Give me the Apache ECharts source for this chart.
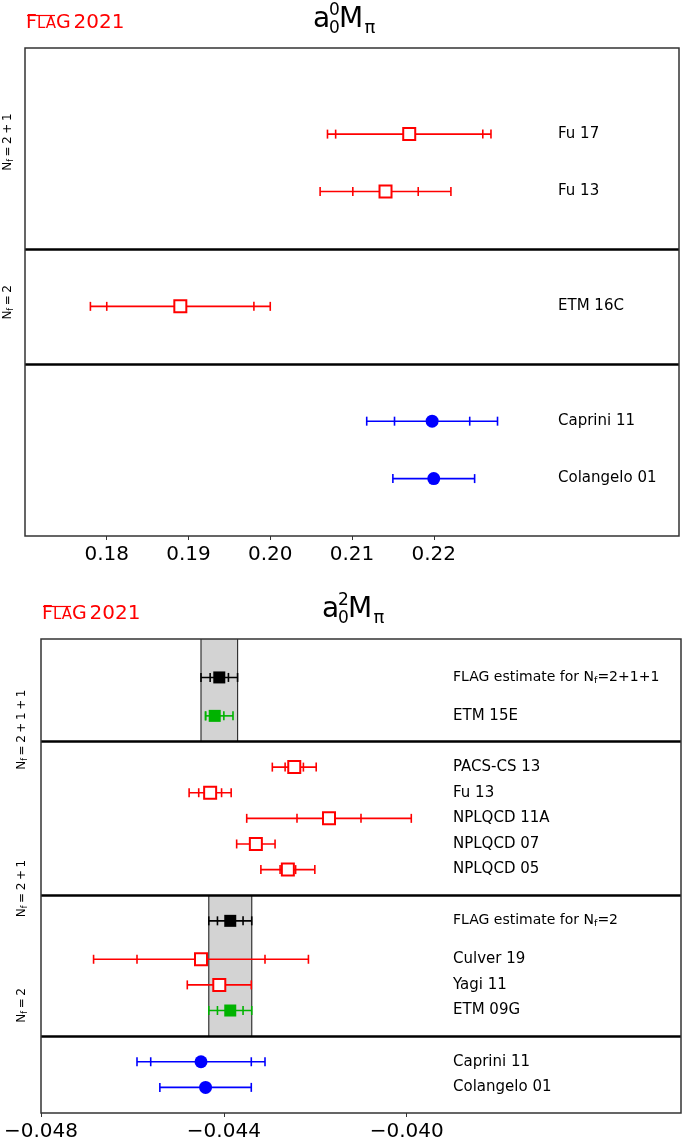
<!DOCTYPE html>
<html><head><meta charset="utf-8">
<script src="https://cdn.jsdelivr.net/npm/echarts@6/dist/echarts.min.js"></script>
<style>html,body{margin:0;padding:0;background:#fff}#c{width:685px;height:1142px}</style>
</head><body><div id="c"></div>
<script>
// ---------- DATA: a0^0 M_pi (top panel) ----------
const TOP_LABELS = ['Fu 17', 'Fu 13', 'ETM 16C', 'Caprini 11', 'Colangelo 01'];
const TOP_VALUES = [0.2170, 0.2141, 0.1890, 0.2198, 0.2200];
const TOP_STAT   = [0.0090, 0.0040, 0.0090, 0.0046, null];
const TOP_TOTAL  = [0.0100, 0.0080, 0.0110, 0.0080, 0.0050];
const TOP_KINDS  = ['open', 'open', 'open', 'pheno', 'pheno'];
const TOP_TICKS  = [0.18, 0.19, 0.20, 0.21, 0.22];
const TOP_GROUPS = ['2+1', '2'];

// ---------- DATA: a0^2 M_pi (bottom panel) ----------
const BOT_LABELS = ['{e|FLAG estimate for N}{s|f}{e|=2+1+1}', 'ETM 15E',
  'PACS-CS 13', 'Fu 13', 'NPLQCD 11A', 'NPLQCD 07', 'NPLQCD 05',
  '{e|FLAG estimate for N}{s|f}{e|=2}', 'Culver 19', 'Yagi 11', 'ETM 09G',
  'Caprini 11', 'Colangelo 01'];
const BOT_VALUES  = [-0.0441, -0.0442, -0.04246, -0.0443, -0.0417, -0.0433, -0.0426,
  -0.04386, -0.0445, -0.0441, -0.04386, -0.0445, -0.0444];
const BOT_STAT_LO = [0.0002, 0.0002, 0.0002, 0.00025, 0.0007, null, 0.00017,
  0.00028, 0.0014, null, 0.00028, 0.0011, null];
const BOT_STAT_HI = [0.0002, 0.0002, 0.0002, 0.00025, 0.0007, null, 0.00017,
  0.00028, 0.0014, null, 0.00028, 0.0011, null];
const BOT_TOT_LO  = [0.0004, 0.0002, 0.00048, 0.00046, 0.0018, 0.00042, 0.00059,
  0.00047, 0.00235, 0.0007, 0.00047, 0.0014, 0.0010];
const BOT_TOT_HI  = [0.0004, 0.0004, 0.00048, 0.00046, 0.0018, 0.00042, 0.00059,
  0.00047, 0.00235, 0.0007, 0.00047, 0.0014, 0.0010];
const BOT_KINDS = ['flag', 'green', 'open', 'open', 'open', 'open', 'open',
  'flag', 'open', 'open', 'green', 'pheno', 'pheno'];
const BOT_TICKS = [-0.048, -0.044, -0.040];
const BOT_GROUPS = ['2+1+1', '2+1', '2'];
const BOT_BAND_SOURCES = [0, 7]; // FLAG estimates define grey bands

// ---------- LAYOUT (row slots, not data) ----------
const TOP_ROWS = [1.5, 2.5, 4.5, 6.5, 7.5];
const TOP_DIVIDERS = [3.5, 5.5];
const TOP_GROUP_ROWS = [1.64, 4.43];
const BOT_ROWS = [1.5, 3, 5, 6, 7, 8, 9, 11, 12.5, 13.5, 14.5, 16.5, 17.5];
const BOT_DIVIDERS = [4, 10, 15.5];
const BOT_GROUP_ROWS = [3.54, 9.74, 14.3];
const BOT_BAND_ROWS = [[0, 4], [10, 15.5]];

const FONT = 'DejaVu Sans';
const COLORS = {open: '#ff0000', pheno: '#0000ff', flag: '#000000', green: '#00b300'};

function errItems(values, sLo, sHi, tLo, tHi, kinds, rows) {
  return values.map((v, i) => {
    const has = sLo[i] != null ? 1 : 0;
    return {
      value: [v, rows[i], v - tLo[i], v + tHi[i], has ? v - sLo[i] : v, has ? v + sHi[i] : v, has],
      itemStyle: {color: COLORS[kinds[i]]}
    };
  });
}
function markerItems(values, kinds, rows) {
  return values.map((v, i) => {
    const k = kinds[i];
    if (k === 'open') return {value: [v, rows[i]], symbol: 'rect', symbolSize: 12,
      itemStyle: {color: '#ffffff', borderColor: '#ff0000', borderWidth: 2, opacity: 1}};
    if (k === 'pheno') return {value: [v, rows[i]], symbol: 'circle', symbolSize: 13,
      itemStyle: {color: '#0000ff', opacity: 1}};
    return {value: [v, rows[i]], symbol: 'rect', symbolSize: 12, itemStyle: {color: COLORS[k], opacity: 1}};
  });
}
function renderErr(params, api) {
  const y = api.value(1);
  const c = api.visual('color');
  const h = 4.5;
  const st = {stroke: c, lineWidth: 1.6};
  const L = api.coord([api.value(2), y]), R = api.coord([api.value(3), y]);
  const ch = [
    {type: 'line', shape: {x1: L[0], y1: L[1], x2: R[0], y2: R[1]}, style: st},
    {type: 'line', shape: {x1: L[0], y1: L[1] - h, x2: L[0], y2: L[1] + h}, style: st},
    {type: 'line', shape: {x1: R[0], y1: R[1] - h, x2: R[0], y2: R[1] + h}, style: st}
  ];
  if (api.value(6)) {
    const IL = api.coord([api.value(4), y]), IR = api.coord([api.value(5), y]);
    ch.push({type: 'line', shape: {x1: IL[0], y1: IL[1] - h, x2: IL[0], y2: IL[1] + h}, style: st});
    ch.push({type: 'line', shape: {x1: IR[0], y1: IR[1] - h, x2: IR[0], y2: IR[1] + h}, style: st});
  }
  return {type: 'group', children: ch};
}
function labelRenderer(texts, offset) {
  return function (params, api) {
    const p = api.coord([api.value(0), api.value(1)]);
    return {type: 'text', x: params.coordSys.x + offset, y: p[1],
      style: {text: texts[params.dataIndex], fill: '#000', font: '15px "' + FONT + '"',
        verticalAlign: 'middle', align: 'left',
        rich: {
          e: {fontSize: 14, fontFamily: FONT},
          s: {fontSize: 9.5, fontFamily: FONT, verticalAlign: 'bottom', padding: [6, 0, 0, 0]}
        }}};
  };
}
function groupRenderer(texts, xpos) {
  return function (params, api) {
    const p = api.coord([api.value(0), api.value(1)]);
    const body = texts[params.dataIndex].split('+').join('{sp| }+{sp| }');
    return {type: 'text', x: xpos, y: p[1], rotation: Math.PI / 2,
      style: {text: 'N{s|f}{sp| }={sp| }' + body,
        fill: '#000', font: '12px "' + FONT + '"', align: 'center', verticalAlign: 'middle',
        rich: {
          s: {fontSize: 8, fontFamily: FONT, verticalAlign: 'bottom', padding: [5, 0, 0, 0]},
          sp: {fontSize: 8, fontFamily: FONT}
        }}};
  };
}
function renderBand(params, api) {
  const a = api.coord([api.value(0), api.value(2)]);
  const b = api.coord([api.value(1), api.value(3)]);
  return {type: 'group', children: [
    {type: 'rect', shape: {x: a[0], y: a[1], width: b[0] - a[0], height: b[1] - a[1]},
      style: {fill: '#d3d3d3'}},
    {type: 'line', shape: {x1: a[0], y1: a[1], x2: a[0], y2: b[1]}, style: {stroke: '#333', lineWidth: 1.2}},
    {type: 'line', shape: {x1: b[0], y1: a[1], x2: b[0], y2: b[1]}, style: {stroke: '#333', lineWidth: 1.2}}
  ]};
}

const topErr = errItems(TOP_VALUES, TOP_STAT, TOP_STAT, TOP_TOTAL, TOP_TOTAL, TOP_KINDS, TOP_ROWS);
const botErr = errItems(BOT_VALUES, BOT_STAT_LO, BOT_STAT_HI, BOT_TOT_LO, BOT_TOT_HI, BOT_KINDS, BOT_ROWS);
const bands = BOT_BAND_SOURCES.map((idx, j) => [BOT_VALUES[idx] - BOT_TOT_LO[idx], BOT_VALUES[idx] + BOT_TOT_HI[idx],
  BOT_BAND_ROWS[j][0], BOT_BAND_ROWS[j][1]]);

const axisCommon = {
  type: 'value', splitLine: {show: false}, axisLine: {show: false, onZero: false},
  axisTick: {show: true, inside: false, length: 4, lineStyle: {color: '#333', width: 1}},
};

function logo(x, y) {
  const r = {
    a: {fontSize: 19, fontFamily: FONT, fill: '#ff0000'},
    b: {fontSize: 15, fontFamily: FONT, fill: '#ff0000', padding: [3, 0, 0, 0]},
    c: {fontSize: 20, fontFamily: FONT, fill: '#ff0000', padding: [0, 0, 0, 3]}
  };
  return [
    {type: 'text', x: x, y: y, style: {text: '{a|F}{b|LA}{a|G}{c|2021}', verticalAlign: 'middle', fill: '#ff0000', rich: r}},
    {type: 'line', shape: {x1: x + 1, y1: y - 7.5, x2: x + 29, y2: y - 7.5}, style: {stroke: '#ff0000', lineWidth: 1.2}}
  ];
}
function title(x, y, sup) {
  const f = (s) => s + 'px "' + FONT + '"';
  return {type: 'group', x: x, y: y, children: [
    {type: 'text', x: 0, y: 20, style: {text: 'a', font: f(28), fill: '#000', verticalAlign: 'middle'}},
    {type: 'text', x: 16, y: 11, style: {text: sup, font: f(17), fill: '#000', verticalAlign: 'middle'}},
    {type: 'text', x: 16, y: 29, style: {text: '0', font: f(17), fill: '#000', verticalAlign: 'middle'}},
    {type: 'text', x: 26, y: 20, style: {text: 'M', font: f(28), fill: '#000', verticalAlign: 'middle'}},
    {type: 'text', x: 51.5, y: 28, style: {text: '\u03c0', font: f(18), fill: '#000', verticalAlign: 'middle'}}
  ]};
}

const chart = echarts.init(document.getElementById('c'), null, {renderer: 'canvas'});
chart.setOption({
  animation: false,
  backgroundColor: '#fff',
  grid: [
    {left: 25, top: 48, width: 654, height: 488, show: true, borderColor: '#333', borderWidth: 1.5, z: 10, backgroundColor: 'transparent'},
    {left: 41, top: 639, width: 640, height: 475, show: true, borderColor: '#333', borderWidth: 1.5, z: 10, backgroundColor: 'transparent'}
  ],
  xAxis: [
    Object.assign({}, axisCommon, {gridIndex: 0, min: 0.17, max: 0.25,
      axisTick: Object.assign({}, axisCommon.axisTick, {customValues: TOP_TICKS}),
      axisLabel: {customValues: TOP_TICKS, fontSize: 20, fontFamily: FONT, color: '#000', margin: 9,
        formatter: v => v.toFixed(2)}}),
    Object.assign({}, axisCommon, {gridIndex: 1, min: -0.048, max: -0.034,
      axisTick: Object.assign({}, axisCommon.axisTick, {customValues: BOT_TICKS}),
      axisLabel: {customValues: BOT_TICKS, fontSize: 20, fontFamily: FONT, color: '#000', margin: 9,
        formatter: v => (v < 0 ? '\u2212' : '') + Math.abs(v).toFixed(3)}})
  ],
  yAxis: [
    {type: 'value', gridIndex: 0, min: 0, max: 8.5, inverse: true, show: false},
    {type: 'value', gridIndex: 1, min: 0, max: 18.5, inverse: true, show: false}
  ],
  series: [
    {type: 'custom', xAxisIndex: 1, yAxisIndex: 1, z: 1, silent: true, renderItem: renderBand, data: bands},
    {type: 'custom', xAxisIndex: 0, yAxisIndex: 0, z: 3, silent: true, renderItem: renderErr, data: topErr},
    {type: 'custom', xAxisIndex: 1, yAxisIndex: 1, z: 3, silent: true, renderItem: renderErr, data: botErr},
    {type: 'scatter', xAxisIndex: 0, yAxisIndex: 0, z: 4, silent: true, itemStyle: {opacity: 1},
      data: markerItems(TOP_VALUES, TOP_KINDS, TOP_ROWS),
      markLine: {silent: true, symbol: 'none', label: {show: false}, animation: false,
        lineStyle: {color: '#000', width: 2.5, type: 'solid'}, data: TOP_DIVIDERS.map(d => ({yAxis: d}))}},
    {type: 'scatter', xAxisIndex: 1, yAxisIndex: 1, z: 4, silent: true, itemStyle: {opacity: 1},
      data: markerItems(BOT_VALUES, BOT_KINDS, BOT_ROWS),
      markLine: {silent: true, symbol: 'none', label: {show: false}, animation: false,
        lineStyle: {color: '#000', width: 2.5, type: 'solid'}, data: BOT_DIVIDERS.map(d => ({yAxis: d}))}},
    {type: 'custom', xAxisIndex: 0, yAxisIndex: 0, z: 5, silent: true,
      renderItem: labelRenderer(TOP_LABELS, 533), data: TOP_VALUES.map((v, i) => [v, TOP_ROWS[i]])},
    {type: 'custom', xAxisIndex: 1, yAxisIndex: 1, z: 5, silent: true,
      renderItem: labelRenderer(BOT_LABELS, 412), data: BOT_VALUES.map((v, i) => [v, BOT_ROWS[i]])},
    {type: 'custom', xAxisIndex: 0, yAxisIndex: 0, z: 5, silent: true,
      renderItem: groupRenderer(TOP_GROUPS, 8), data: TOP_GROUPS.map((g, i) => [0.17, TOP_GROUP_ROWS[i]])},
    {type: 'custom', xAxisIndex: 1, yAxisIndex: 1, z: 5, silent: true,
      renderItem: groupRenderer(BOT_GROUPS, 22), data: BOT_GROUPS.map((g, i) => [-0.048, BOT_GROUP_ROWS[i]])}
  ],
  graphic: [].concat(logo(26, 23), logo(42, 614), [title(313, 0, '0'), title(322, 590, '2')])
});
</script></body></html>
